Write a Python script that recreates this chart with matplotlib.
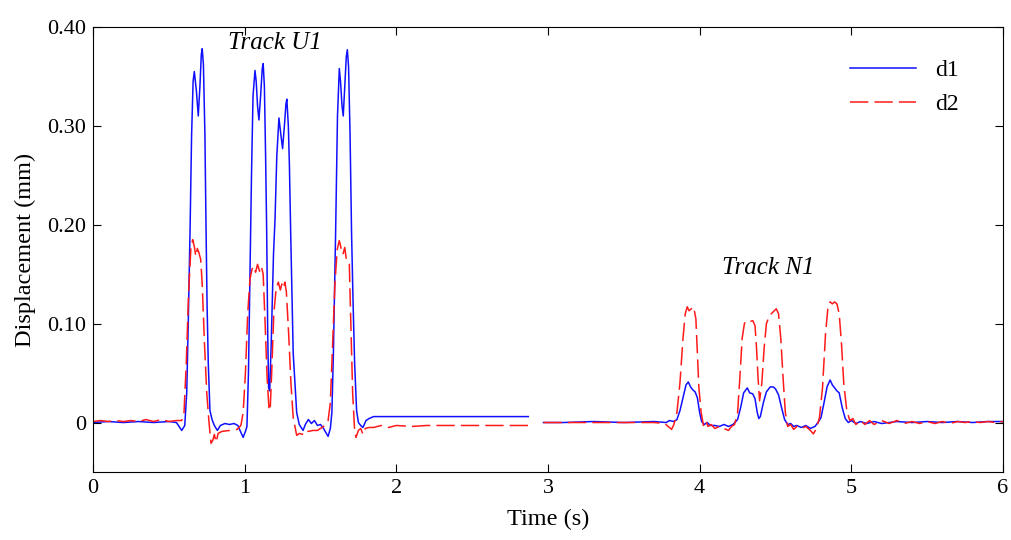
import matplotlib
matplotlib.use("Agg")
import matplotlib.pyplot as plt

# ---------------- data ----------------
# Track U1 segment, d1 (blue)
t_u1_d1 = [0.00, 0.10, 0.20, 0.30, 0.40, 0.50, 0.55, 0.585, 0.605, 0.618, 0.628, 0.640, 0.650, 0.660,
           0.668, 0.682, 0.694, 0.705, 0.714, 0.720, 0.728, 0.738, 0.745, 0.752, 0.760, 0.771, 0.785,
           0.800, 0.820, 0.840, 0.870, 0.900, 0.930, 0.955, 0.975, 0.990, 1.005, 1.015, 1.025, 1.035,
           1.045, 1.055, 1.068, 1.076, 1.085, 1.094, 1.105, 1.116, 1.122, 1.130, 1.138, 1.145, 1.152,
           1.158, 1.165, 1.175, 1.190, 1.200, 1.212, 1.226, 1.238, 1.250, 1.262, 1.272, 1.278, 1.288,
           1.295, 1.303, 1.320, 1.343, 1.360, 1.385, 1.400, 1.420, 1.440, 1.460, 1.480, 1.500, 1.520,
           1.550, 1.565, 1.575, 1.585, 1.600, 1.612, 1.624, 1.632, 1.642, 1.650, 1.660, 1.670, 1.677,
           1.685, 1.695, 1.705, 1.715, 1.725, 1.738, 1.750, 1.765, 1.780, 1.800, 1.820, 1.850, 1.900,
           2.000, 2.300, 2.600, 2.870]
d1_u1 = [0.000, 0.001, 0.000, 0.001, 0.000, 0.001, 0.000, -0.008, -0.003, 0.030, 0.100, 0.195, 0.290,
         0.345, 0.355, 0.335, 0.310, 0.340, 0.372, 0.378, 0.362, 0.290, 0.200, 0.120, 0.060, 0.012,
         0.003, -0.003, -0.008, -0.003, -0.001, -0.002, -0.001, -0.003, -0.010, -0.015, -0.009, -0.004,
         0.050, 0.150, 0.250, 0.330, 0.356, 0.345, 0.320, 0.306, 0.330, 0.358, 0.363, 0.340, 0.270,
         0.195, 0.090, 0.035, 0.032, 0.080, 0.170, 0.205, 0.270, 0.308, 0.292, 0.277, 0.300, 0.322,
         0.327, 0.300, 0.260, 0.195, 0.070, 0.010, -0.002, -0.008, -0.002, 0.003, -0.001, 0.002, -0.003,
         -0.002, -0.006, -0.014, -0.006, 0.010, 0.070, 0.195, 0.310, 0.358, 0.345, 0.320, 0.310, 0.340,
         0.370, 0.377, 0.360, 0.290, 0.190, 0.120, 0.060, 0.012, 0.000, -0.003, -0.005, 0.002, 0.004,
         0.006, 0.006, 0.006, 0.006, 0.006, 0.006]

# Track U1 segment, d2 (red)
t_u1_d2 = [0.00, 0.05, 0.10, 0.15, 0.20, 0.25, 0.30, 0.35, 0.40, 0.45, 0.50, 0.55, 0.585, 0.600, 0.615,
           0.630, 0.645, 0.657, 0.668, 0.678, 0.688, 0.698, 0.710, 0.720, 0.735, 0.750, 0.765, 0.778,
           0.790, 0.800, 0.812, 0.825, 0.850, 0.900, 0.950, 0.975, 0.990, 1.005, 1.020, 1.035, 1.048,
           1.060, 1.072, 1.085, 1.098, 1.110, 1.122, 1.135, 1.148, 1.160, 1.168, 1.178, 1.192, 1.208,
           1.222, 1.235, 1.245, 1.255, 1.265, 1.275, 1.290, 1.305, 1.320, 1.343, 1.360, 1.380, 1.400,
           1.420, 1.450, 1.480, 1.520, 1.550, 1.565, 1.580, 1.595, 1.610, 1.624, 1.636, 1.648, 1.660,
           1.672, 1.690, 1.700, 1.712, 1.725, 1.734, 1.750, 1.765, 1.780, 1.795, 1.820, 1.850, 1.900,
           1.950, 2.000, 2.100, 2.200, 2.500, 2.870]
d2_u1 = [0.001, 0.002, 0.001, 0.002, 0.001, 0.002, 0.001, 0.003, 0.001, 0.003, 0.001, 0.002, 0.002,
         0.010, 0.060, 0.130, 0.175, 0.185, 0.178, 0.168, 0.176, 0.172, 0.165, 0.140, 0.080, 0.030,
         0.000, -0.021, -0.018, -0.012, -0.020, -0.011, -0.009, -0.008, -0.007, -0.003, 0.010, 0.050,
         0.110, 0.145, 0.155, 0.158, 0.152, 0.160, 0.153, 0.158, 0.150, 0.100, 0.045, 0.015, 0.012,
         0.050, 0.110, 0.136, 0.142, 0.134, 0.140, 0.136, 0.142, 0.132, 0.090, 0.040, 0.005, -0.013,
         -0.011, -0.012, -0.008, -0.009, -0.008, -0.008, -0.004, 0.002, 0.020, 0.080, 0.140, 0.175,
         0.184, 0.176, 0.170, 0.177, 0.163, 0.160, 0.100, 0.030, -0.008, -0.015, -0.008, -0.006,
         -0.012, -0.006, -0.005, -0.005, -0.003, -0.005, -0.003, -0.004, -0.003, -0.003, -0.003]

# Track N1 segment, d1 (blue)
t_n1_d1 = [2.97, 3.10, 3.30, 3.50, 3.70, 3.78, 3.80, 3.83, 3.85, 3.87, 3.89, 3.91, 3.925, 3.94, 3.955,
           3.97, 3.985, 4.00, 4.013, 4.03, 4.05, 4.07, 4.10, 4.13, 4.16, 4.19, 4.22, 4.25, 4.27, 4.29,
           4.314, 4.33, 4.35, 4.365, 4.38, 4.39, 4.40, 4.42, 4.44, 4.465, 4.485, 4.50, 4.52, 4.54, 4.56,
           4.58, 4.60, 4.62, 4.64, 4.67, 4.70, 4.73, 4.76, 4.78, 4.80, 4.82, 4.84, 4.86, 4.875, 4.89,
           4.905, 4.92, 4.94, 4.96, 4.98, 5.00, 5.03, 5.06, 5.10, 5.15, 5.20, 5.30, 5.40, 5.50, 5.60,
           5.70, 5.80, 5.90, 6.00]
d1_n1 = [0.000, 0.000, 0.001, 0.000, 0.001, 0.000, 0.002, 0.001, 0.003, 0.012, 0.025, 0.038, 0.041,
         0.036, 0.033, 0.031, 0.025, 0.010, 0.001, -0.002, 0.000, -0.003, -0.003, -0.004, -0.002,
         -0.004, -0.002, 0.003, 0.015, 0.030, 0.035, 0.030, 0.029, 0.024, 0.010, 0.004, 0.006, 0.020,
         0.031, 0.036, 0.036, 0.034, 0.028, 0.015, 0.003, -0.002, -0.001, -0.004, -0.003, -0.005,
         -0.003, -0.006, -0.004, 0.000, 0.005, 0.020, 0.036, 0.043, 0.038, 0.035, 0.032, 0.030, 0.015,
         0.004, 0.000, 0.002, -0.001, 0.001, -0.001, 0.001, -0.001, 0.001, 0.000, 0.001, 0.000, 0.001,
         0.000, 0.001, 0.001]

# Track N1 segment, d2 (red)
t_n1_d2 = [2.97, 3.10, 3.30, 3.50, 3.70, 3.77, 3.80, 3.815, 3.83, 3.85, 3.87, 3.89, 3.905, 3.918, 3.93,
           3.945, 3.96, 3.975, 3.985, 3.995, 4.01, 4.025, 4.04, 4.055, 4.075, 4.10, 4.13, 4.16, 4.19,
           4.21, 4.23, 4.25, 4.265, 4.28, 4.295, 4.31, 4.33, 4.35, 4.365, 4.375, 4.385, 4.395, 4.41,
           4.425, 4.44, 4.46, 4.485, 4.505, 4.52, 4.535, 4.55, 4.565, 4.58, 4.60, 4.62, 4.64, 4.67,
           4.70, 4.73, 4.75, 4.77, 4.79, 4.81, 4.83, 4.845, 4.86, 4.875, 4.89, 4.905, 4.92, 4.935, 4.95,
           4.97, 4.99, 5.01, 5.03, 5.06, 5.09, 5.12, 5.15, 5.20, 5.25, 5.30, 5.35, 5.40, 5.45, 5.50,
           5.55, 5.60, 5.65, 5.70, 5.75, 5.80, 5.85, 5.90, 5.95, 6.00]
d2_n1 = [0.000, 0.000, 0.000, 0.000, 0.000, -0.001, -0.005, -0.007, -0.002, 0.010, 0.040, 0.085,
         0.110, 0.117, 0.113, 0.115, 0.117, 0.105, 0.070, 0.035, 0.010, -0.003, 0.002, -0.004, -0.002,
         -0.006, -0.004, -0.006, -0.008, -0.004, -0.002, 0.010, 0.045, 0.085, 0.100, 0.103, 0.102,
         0.103, 0.098, 0.075, 0.045, 0.022, 0.040, 0.075, 0.100, 0.108, 0.112, 0.115, 0.110, 0.085,
         0.045, 0.010, -0.004, -0.002, -0.007, -0.004, -0.006, -0.004, -0.008, -0.0115, -0.006, 0.005,
         0.035, 0.090, 0.115, 0.122, 0.120, 0.122, 0.120, 0.110, 0.080, 0.040, 0.012, 0.002, 0.004,
         -0.002, 0.002, -0.002, 0.002, -0.002, 0.002, -0.001, 0.002, -0.001, 0.001, -0.001, 0.001,
         -0.001, 0.001, -0.001, 0.001, 0.000, 0.001, 0.000, 0.001, 0.000, 0.001]

x_ticks = [0, 1, 2, 3, 4, 5, 6]
y_ticks = [0.0, 0.10, 0.20, 0.30, 0.40]
y_tick_labels = ["0", "0.10", "0.20", "0.30", "0.40"]

# ---------------- plot ----------------
plt.rcParams['font.family'] = ['Liberation Serif', 'DejaVu Serif']

fig = plt.figure(figsize=(10.12, 5.40), dpi=100)
ax = fig.add_axes([0.0919, 0.126, 0.8992, 0.824])

blue = '#1010ff'
red = '#ff1a1a'
dash = (0, (12, 4))

ax.plot(t_u1_d1, d1_u1, color=blue, lw=1.1, label='d1')
ax.plot(t_n1_d1, d1_n1, color=blue, lw=1.1)
ax.plot(t_u1_d2, d2_u1, color=red, lw=1.1, linestyle=dash, label='d2')
ax.plot(t_n1_d2, d2_n1, color=red, lw=1.1, linestyle=dash)

ax.set_xlim(0, 6)
ax.set_ylim(-0.05, 0.40)
ax.set_xticks(x_ticks)
ax.set_xticklabels([str(v) for v in x_ticks])
ax.set_yticks(y_ticks)
ax.set_yticklabels(y_tick_labels)
ax.tick_params(direction='in', top=True, right=True, length=6, width=0.8, labelsize=16, pad=5)
for s in ax.spines.values():
    s.set_linewidth(0.8)

ax.set_xlabel('Time (s)', fontsize=17.5, labelpad=8)
ax.set_ylabel('Displacement (mm)', fontsize=17.5, labelpad=8)

ax.text(1.20, 0.384, 'Track U1', fontsize=18, style='italic', ha='center', va='center')
ax.text(4.45, 0.156, 'Track N1', fontsize=18, style='italic', ha='center', va='center')

leg = ax.legend(loc='upper right', bbox_to_anchor=(0.975, 0.975), frameon=False, fontsize=17,
                handlelength=2.8, handletextpad=0.8, labelspacing=0.55)

fig.savefig('out.png', dpi=100)
